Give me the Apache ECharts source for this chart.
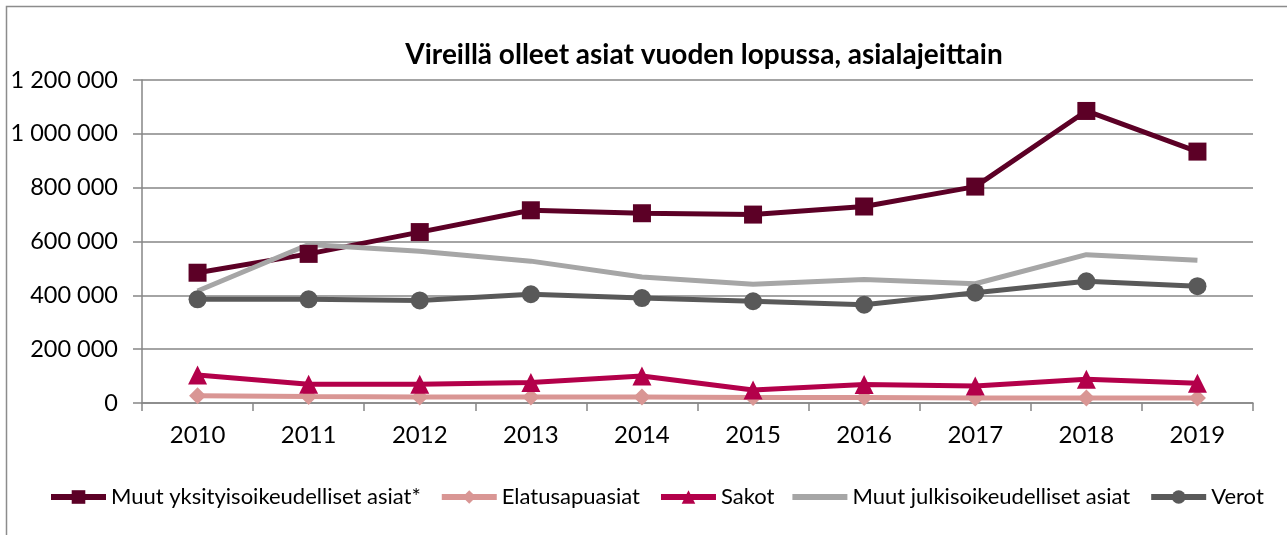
<!DOCTYPE html>
<html>
<head>
<meta charset="utf-8">
<script src="https://cdn.jsdelivr.net/npm/echarts@6/dist/echarts.min.js"></script>
<style>
html,body{margin:0;padding:0;background:#fff;}
#chart{width:1287px;height:535px;}
</style>
</head>
<body>
<div id="chart"></div>
<script>
const titleText = 'Vireillä olleet asiat vuoden lopussa, asialajeittain';
const years = ['2010','2011','2012','2013','2014','2015','2016','2017','2018','2019'];
const seriesNames = ['Muut yksityisoikeudelliset asiat*','Elatusapuasiat','Sakot','Muut julkisoikeudelliset asiat','Verot'];
const muutYksityis = [484000, 554000, 635000, 716000, 705000, 700000, 730000, 804000, 1085000, 934000];
const elatusapu = [27000, 24000, 22000, 22000, 22000, 20000, 20000, 19000, 19000, 19000];
const sakot = [104000, 70000, 70000, 76000, 100000, 48000, 69000, 63000, 88000, 73000];
const muutJulkis = [416000, 589000, 564000, 527000, 468000, 441000, 459000, 443000, 551000, 530000];
const verot = [385000, 385000, 381000, 404000, 390000, 378000, 365000, 410000, 452000, 434000];

const FONT = 'Lato';
const fmt = v => String(v).replace(/\B(?=(\d{3})+(?!\d))/g, ' ');

const chart = echarts.init(document.getElementById('chart'), null, {renderer:'canvas'});
function lineSeries(name, data, color, symbol, size, width){
  return {
    name, type:'line', data,
    itemStyle:{color},
    lineStyle:{color, width},
    symbol, symbolSize:size, showSymbol: symbol !== 'none',
    emphasis:{disabled:true}, animation:false
  };
}
// plain thick strip icon (line without marker) for the legend
const stripIcon = 'path://M0,0 M55,17 M0,5.5 L55,5.5 L55,11.5 L0,11.5 Z';
chart.setOption({
  animation:false,
  textStyle:{fontFamily:FONT},
  title:{
    text:titleText, left:699, top:36, textAlign:'center',
    textStyle:{fontFamily:FONT, fontSize:28, fontWeight:'bold', color:'#000'}
  },
  graphic:[{
    type:'rect', shape:{x:6.5, y:6.5, width:1400, height:700},
    style:{fill:'none', stroke:'#8c8c8c', lineWidth:1.5}, silent:true, z:-10
  }],
  grid:{left:142, right:34, top:80, bottom:132, containLabel:false},
  xAxis:{
    type:'category', data:years, boundaryGap:true,
    axisLine:{lineStyle:{color:'#868686', width:1.5}},
    axisTick:{show:true, length:8, lineStyle:{color:'#868686', width:1.5}},
    axisLabel:{color:'#000', fontFamily:FONT, fontSize:24, margin:20}
  },
  yAxis:{
    type:'value', min:0, max:1200000, interval:200000,
    axisLine:{show:true, lineStyle:{color:'#868686', width:1.5}},
    axisTick:{show:true, length:9, lineStyle:{color:'#868686', width:1.5}},
    splitLine:{lineStyle:{color:'#868686', width:1.5}},
    axisLabel:{color:'#000', fontFamily:FONT, fontSize:23.5, margin:24, formatter:v=>fmt(v)}
  },
  legend:{
    data:[
      {name:seriesNames[0]},
      {name:seriesNames[1]},
      {name:seriesNames[2]},
      {name:seriesNames[3], icon:stripIcon},
      {name:seriesNames[4]}
    ],
    left:43, top:481, itemWidth:55, itemHeight:17, itemGap:18,
    lineStyle:{width:6},
    textStyle:{fontFamily:FONT, fontSize:22, color:'#000'}
  },
  series:[
    lineSeries(seriesNames[0], muutYksityis, '#5c0026', 'rect', 18, 5),
    lineSeries(seriesNames[1], elatusapu, '#d99694', 'diamond', 17, 5),
    lineSeries(seriesNames[2], sakot, '#b3004a', 'triangle', 19, 5),
    lineSeries(seriesNames[3], muutJulkis, '#a6a6a6', 'none', 0, 5),
    lineSeries(seriesNames[4], verot, '#595959', 'circle', 18, 5)
  ]
});
</script>
</body>
</html>
